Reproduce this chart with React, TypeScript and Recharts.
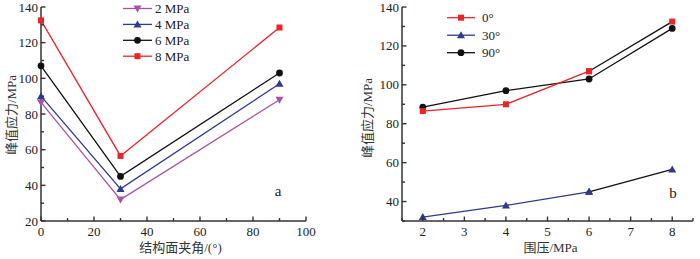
import React from 'react';
import { LineChart, Line, XAxis, YAxis } from 'recharts';

// ---- Chart a: peak stress vs structural plane angle ----
const anglesA = [0, 30, 90];
const s2MPa = [86.5, 32, 88];
const s4MPa = [90, 38, 97];
const s6MPa = [107, 45, 103];
const s8MPa = [132.5, 56.5, 128.5];
const ticksAX = [0, 10, 20, 30, 40, 50, 60, 70, 80, 90, 100];
const labelsAX = [0, 20, 40, 60, 80, 100];
const ticksAY = [20, 30, 40, 50, 60, 70, 80, 90, 100, 110, 120, 130, 140];
const labelsAY = [20, 40, 60, 80, 100, 120, 140];

// ---- Chart b: peak stress vs confining pressure ----
const pressuresB = [2, 4, 6, 8];
const a0 = [86.5, 90, 107, 132.5];
const a30 = [32, 38, 45, 56.5];
const a90 = [88.5, 97, 103, 129];
const ticksBX = [1.5, 2, 2.5, 3, 3.5, 4, 4.5, 5, 5.5, 6, 6.5, 7, 7.5, 8, 8.5];
const labelsBX = [2, 3, 4, 5, 6, 7, 8];
const ticksBY = [30, 40, 50, 60, 70, 80, 90, 100, 110, 120, 130, 140];
const labelsBY = [40, 60, 80, 100, 120, 140];

const RED = '#ec2327';
const BLUE = '#2e3a8c';
const PURPLE = '#a9529f';
const BLACK = '#111111';
const AXIS = '#333333';
const FONT = '"Liberation Serif", "Times New Roman", "Noto Sans CJK SC", serif';
const TXT: React.CSSProperties = { fontFamily: FONT, fontSize: 13 };

const dataA = anglesA.map((x, i) => ({ x, p2: s2MPa[i], p4: s4MPa[i], p6: s6MPa[i], p8: s8MPa[i] }));
const dataB = pressuresB.map((x, i) => ({
  x,
  d0: i < 3 ? a0[i] : null,
  d0t: i >= 2 ? a0[i] : null,
  d30: i < 3 ? a30[i] : null,
  d30t: i >= 2 ? a30[i] : null,
  d90: a90[i],
}));

const markerEl = (shape: string, cx: number, cy: number, fill: string, key?: any) => {
  if (shape === 'sq') return <rect key={key} x={cx - 3} y={cy - 3} width={6} height={6} fill={fill} />;
  if (shape === 'up') return <polygon key={key} points={`${cx},${cy - 4} ${cx - 4},${cy + 3} ${cx + 4},${cy + 3}`} fill={fill} />;
  if (shape === 'down') return <polygon key={key} points={`${cx},${cy + 4} ${cx - 4},${cy - 3} ${cx + 4},${cy - 3}`} fill={fill} />;
  return <circle key={key} cx={cx} cy={cy} r={3.4} fill={fill} />;
};
const dotOf = (shape: string, fill: string) => (p: any) =>
  p.cx == null || p.cy == null || p.value == null ? <g key={p.key} /> : markerEl(shape, p.cx, p.cy, fill, p.key);

const makeXTick = (labels: number[]) => (p: any) => {
  const v = p.payload.value;
  const major = labels.includes(v);
  return (
    <g>
      <line x1={p.x} x2={p.x} y1={p.y} y2={p.y - (major ? 4.5 : 3)} stroke={AXIS} strokeWidth={1.4} />
      {major && (
        <text x={p.x} y={p.y + 15} textAnchor="middle" style={TXT} fill="#222">{v}</text>
      )}
    </g>
  );
};
const makeYTick = (labels: number[]) => (p: any) => {
  const v = p.payload.value;
  const major = labels.includes(v);
  return (
    <g>
      <line x1={p.x} x2={p.x + (major ? 4.5 : 3)} y1={p.y} y2={p.y} stroke={AXIS} strokeWidth={1.4} />
      {major && (
        <text x={p.x - 3} y={p.y + 4.5} textAnchor="end" style={TXT} fill="#222">{v}</text>
      )}
    </g>
  );
};

type LegendItem = { name: string; color: string; shape: string };
const LegendG = ({ items, x, y, lineW, gap, rowH }: { items: LegendItem[]; x: number; y: number; lineW: number; gap: number; rowH: number }) => (
  <g>
    {items.map((it, i) => {
      const cy = y + i * rowH;
      return (
        <g key={it.name}>
          <line x1={x} x2={x + lineW} y1={cy} y2={cy} stroke={it.color} strokeWidth={1.3} />
          {markerEl(it.shape, x + lineW / 2, cy, it.color)}
          <text x={x + lineW + gap} y={cy + 4.5} style={TXT} fill="#222">{it.name}</text>
        </g>
      );
    })}
  </g>
);

const legendA: LegendItem[] = [
  { name: '2 MPa', color: PURPLE, shape: 'down' },
  { name: '4 MPa', color: BLUE, shape: 'up' },
  { name: '6 MPa', color: BLACK, shape: 'c' },
  { name: '8 MPa', color: RED, shape: 'sq' },
];
const legendB: LegendItem[] = [
  { name: '0°', color: RED, shape: 'sq' },
  { name: '30°', color: BLUE, shape: 'up' },
  { name: '90°', color: BLACK, shape: 'c' },
];

const yLabel = (text: string, dx: number, dy: number) => (p: any) => {
  const vb = p.viewBox;
  const cx = vb.x + dx;
  const cy = vb.y + vb.height / 2 + dy;
  return (
    <text x={cx} y={cy} transform={`rotate(-90 ${cx} ${cy})`} textAnchor="middle" dominantBaseline="central"
      style={TXT} fill="#333">{text}</text>
  );
};
const xLabel = (text: string, dx: number, yOff: number) => (p: any) => {
  const vb = p.viewBox;
  return (
    <text x={vb.x + vb.width / 2 + dx} y={vb.y + yOff} textAnchor="middle" style={TXT} fill="#333">{text}</text>
  );
};

export default function App() {
  return (
    <div style={{ position: 'fixed', left: 0, top: 0, width: 700, height: 259, background: '#fff', display: 'flex' }}>
      <LineChart width={350} height={259} data={dataA} margin={{ top: 7, right: 44, bottom: 2, left: 0 }}>
        <XAxis dataKey="x" type="number" domain={[0, 100]} ticks={ticksAX} interval={0} height={36}
          axisLine={{ stroke: AXIS, strokeWidth: 1.5 }} tickLine={false} tickSize={0} tickMargin={0}
          tick={makeXTick(labelsAX)} label={{ content: xLabel('结构面夹角/(°)', 7, 31) }} />
        <YAxis type="number" domain={[20, 140]} ticks={ticksAY} interval={0} width={41}
          axisLine={{ stroke: AXIS, strokeWidth: 1.5 }} tickLine={false} tickSize={0} tickMargin={0}
          tick={makeYTick(labelsAY)} label={{ content: yLabel('峰值应力/MPa', 11, 1) }} />
        <Line dataKey="p2" name="2 MPa" stroke={PURPLE} strokeWidth={1.3} dot={dotOf('down', PURPLE)} isAnimationActive={false} />
        <Line dataKey="p4" name="4 MPa" stroke={BLUE} strokeWidth={1.3} dot={dotOf('up', BLUE)} isAnimationActive={false} />
        <Line dataKey="p6" name="6 MPa" stroke={BLACK} strokeWidth={1.3} dot={dotOf('c', BLACK)} isAnimationActive={false} />
        <Line dataKey="p8" name="8 MPa" stroke={RED} strokeWidth={1.3} dot={dotOf('sq', RED)} isAnimationActive={false} />
        <LegendG items={legendA} x={123} y={8.5} lineW={29} gap={3} rowH={15.9} />
        <text x={278} y={196} textAnchor="middle" style={{ ...TXT, fontSize: 15 }} fill="#222">a</text>
      </LineChart>
      <LineChart width={350} height={259} data={dataB} margin={{ top: 7, right: 7, bottom: 2, left: 0 }}>
        <XAxis dataKey="x" type="number" domain={[1.5, 8.5]} ticks={ticksBX} interval={0} height={36}
          axisLine={{ stroke: AXIS, strokeWidth: 1.5 }} tickLine={false} tickSize={0} tickMargin={0}
          tick={makeXTick(labelsBX)} label={{ content: xLabel('围压/MPa', 3, 31) }} />
        <YAxis type="number" domain={[30, 140]} ticks={ticksBY} interval={0} width={52}
          axisLine={{ stroke: AXIS, strokeWidth: 1.5 }} tickLine={false} tickSize={0} tickMargin={0}
          tick={makeYTick(labelsBY)} label={{ content: yLabel('峰值应力/MPa', 17, 4) }} />
        <Line dataKey="d0t" stroke={BLACK} strokeWidth={1.3} dot={dotOf('sq', RED)} isAnimationActive={false} />
        <Line dataKey="d30t" stroke={BLACK} strokeWidth={1.3} dot={dotOf('up', BLUE)} isAnimationActive={false} />
        <Line dataKey="d90" name="90°" stroke={BLACK} strokeWidth={1.3} dot={dotOf('c', BLACK)} isAnimationActive={false} />
        <Line dataKey="d0" name="0°" stroke={RED} strokeWidth={1.3} dot={dotOf('sq', RED)} isAnimationActive={false} />
        <Line dataKey="d30" name="30°" stroke={BLUE} strokeWidth={1.3} dot={dotOf('up', BLUE)} isAnimationActive={false} />
        <LegendG items={legendB} x={97} y={17.7} lineW={28} gap={7} rowH={17.5} />
        <text x={323} y={198} textAnchor="middle" style={{ ...TXT, fontSize: 15 }} fill="#222">b</text>
      </LineChart>
    </div>
  );
}
